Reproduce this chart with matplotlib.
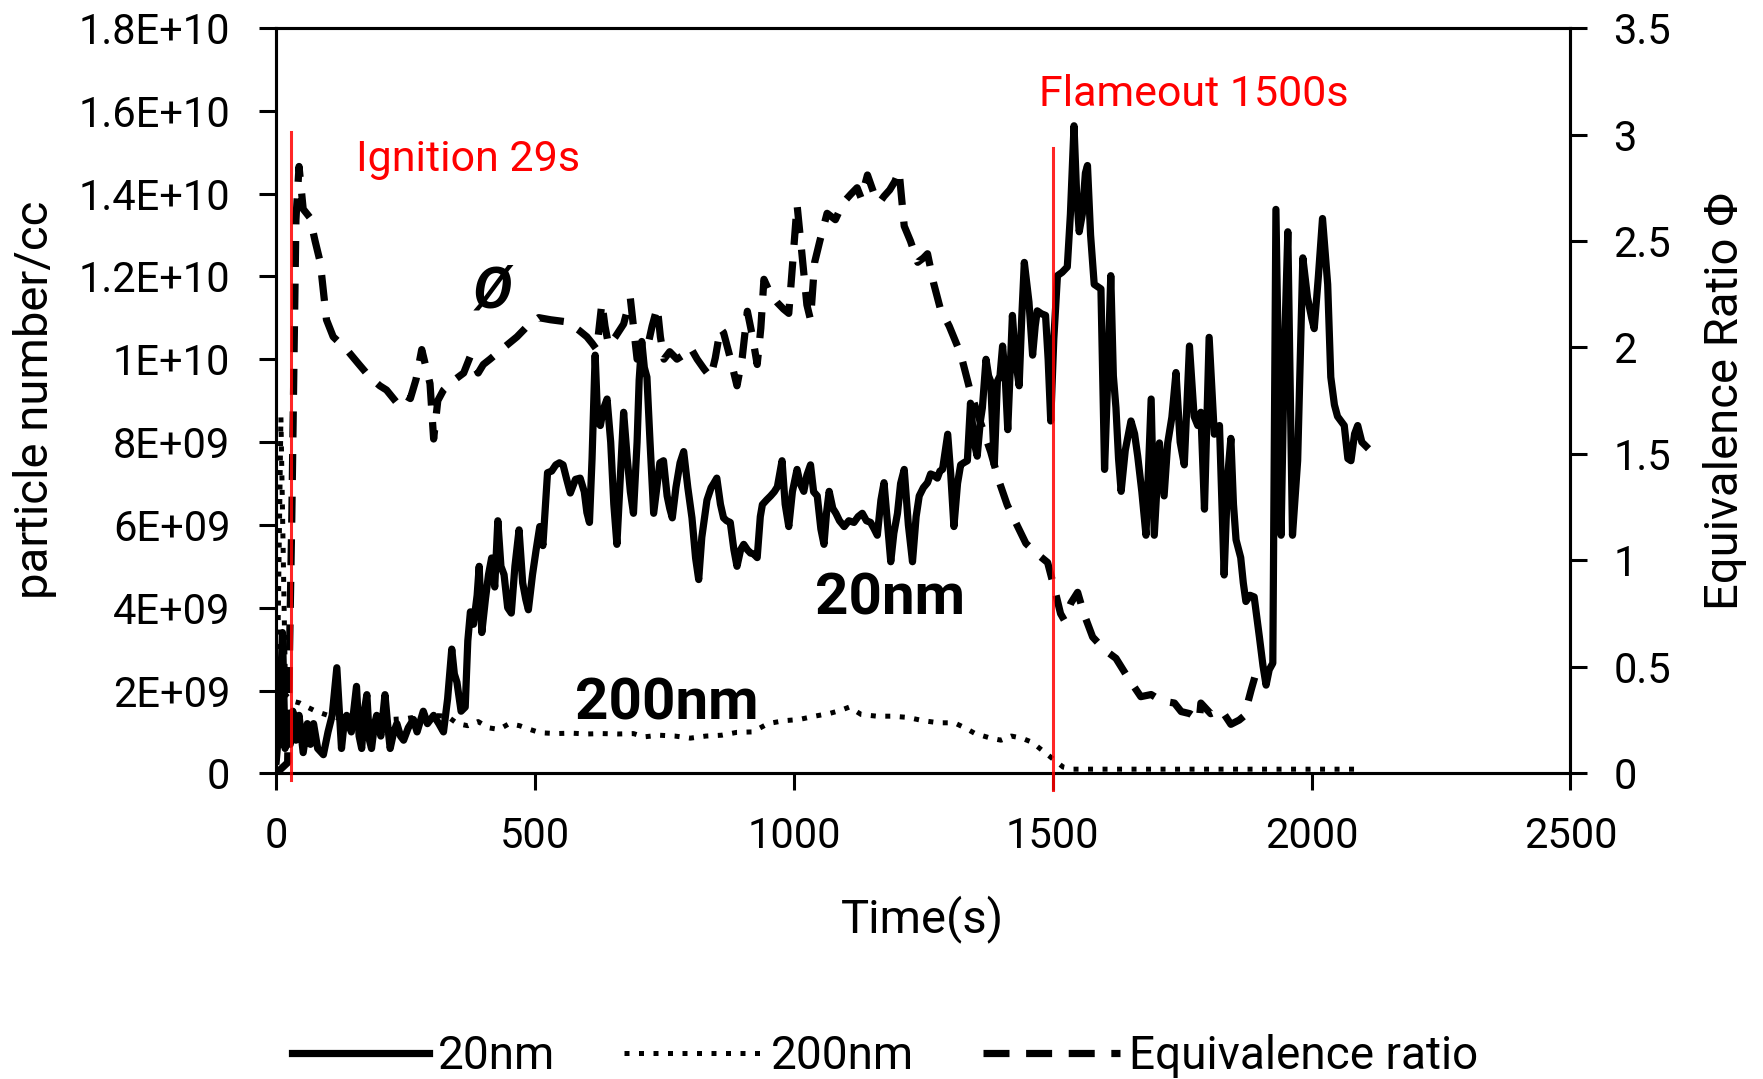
import matplotlib.pyplot as plt
import numpy as np

plt.rcParams['font.family'] = ['Roboto', 'DejaVu Sans']

# time (s) and 20 nm particle number (x1E+09 per cc)
t_20nm = [0, 6, 12, 17, 22, 27, 32, 38, 44, 52, 60, 66, 72, 80, 91, 100, 108, 117, 126, 131,
          136, 145, 155, 160, 165, 170, 175, 180, 184, 190, 194, 202, 210, 215, 220, 227, 233, 240, 246, 255,
          265, 272, 284, 292, 304, 314, 323, 331, 339, 344, 349, 357, 365, 370, 375, 381, 388, 392, 397, 404,
          410, 416, 422, 428, 434, 440, 447, 454, 461, 469, 476, 482, 487, 495, 502, 509, 515, 519, 524, 532,
          540, 547, 554, 561, 568, 578, 587, 595, 600, 605, 610, 616, 621, 626, 632, 639, 646, 652, 658, 664,
          671, 678, 684, 690, 697, 701, 706, 711, 716, 722, 729, 735, 741, 748, 755, 760, 765, 772, 780, 787,
          795, 803, 810, 816, 822, 832, 840, 845, 851, 858, 864, 870, 877, 884, 890, 897, 903, 910, 916, 922,
          929, 935, 939, 947, 955, 962, 968, 972, 977, 983, 990, 997, 1006, 1012, 1019, 1025, 1032, 1038, 1045, 1052,
          1058, 1063, 1068, 1075, 1081, 1088, 1097, 1106, 1116, 1124, 1132, 1140, 1148, 1155, 1161, 1168, 1174, 1181, 1187, 1193,
          1200, 1206, 1213, 1221, 1229, 1236, 1242, 1250, 1258, 1264, 1270, 1277, 1282, 1287, 1297, 1303, 1309, 1316, 1322, 1328,
          1335, 1341, 1348, 1354, 1360, 1364, 1371, 1376, 1380, 1384, 1387, 1393, 1398, 1403, 1408, 1413, 1418, 1422, 1428, 1435,
          1440, 1445, 1450, 1454, 1461, 1466, 1470, 1478, 1486, 1491, 1496, 1502, 1509, 1518, 1528, 1534, 1541, 1546, 1551, 1557,
          1563, 1567, 1573, 1580, 1587, 1593, 1600, 1606, 1612, 1617, 1622, 1627, 1632, 1640, 1651, 1658, 1664, 1672, 1680, 1690,
          1696, 1706, 1715, 1722, 1730, 1738, 1746, 1754, 1764, 1773, 1780, 1786, 1793, 1802, 1812, 1822, 1831, 1838, 1844, 1849,
          1854, 1863, 1868, 1873, 1881, 1889, 1899, 1906, 1912, 1918, 1925, 1931, 1941, 1947, 1954, 1963, 1973, 1983, 1992, 2000,
          2005, 2013, 2021, 2031, 2037, 2044, 2050, 2057, 2063, 2070, 2076, 2083, 2089, 2097, 2105]
n_20nm = [0.3, 1.2, 3.4, 0.6, 1.3, 0.7, 1.5, 0.8, 1.4, 0.5, 1.2, 0.7, 1.2, 0.6, 0.45, 1.0, 1.4, 2.55, 0.6, 1.2,
          1.4, 1.0, 2.1, 0.9, 0.6, 1.5, 1.9, 0.8, 0.6, 1.2, 1.4, 0.9, 1.9, 1.2, 0.6, 1.0, 1.2, 0.9, 0.8, 1.1,
          1.3, 1.0, 1.5, 1.2, 1.4, 1.2, 1.0, 1.8, 3.0, 2.4, 2.2, 1.5, 1.6, 3.2, 3.9, 3.6, 4.3, 5.0, 3.4, 4.2,
          4.8, 5.2, 4.5, 6.1, 5.0, 4.8, 4.0, 3.87, 5.0, 5.88, 4.6, 4.2, 3.95, 4.8, 5.4, 5.96, 5.5, 6.3, 7.26, 7.3,
          7.45, 7.5, 7.45, 7.1, 6.77, 7.1, 7.13, 6.8, 6.3, 6.06, 7.6, 10.1, 8.5, 8.4, 8.8, 9.04, 8.0, 6.5, 5.53, 7.0,
          8.72, 7.6, 6.8, 6.28, 8.0, 9.5, 10.43, 9.8, 9.57, 8.0, 6.28, 6.9, 7.5, 7.55, 6.7, 6.4, 6.17, 6.9, 7.5, 7.77,
          6.9, 6.17, 5.2, 4.68, 5.7, 6.6, 6.9, 7.0, 7.13, 6.5, 6.17, 6.1, 6.06, 5.4, 5.0, 5.4, 5.53, 5.4, 5.32, 5.3,
          5.21, 6.2, 6.49, 6.6, 6.7, 6.8, 6.92, 7.2, 7.55, 6.5, 5.96, 6.8, 7.34, 7.0, 6.81, 7.2, 7.45, 6.8, 6.7, 5.9,
          5.53, 6.3, 6.81, 6.4, 6.28, 6.1, 5.96, 6.1, 6.06, 6.2, 6.28, 6.1, 6.06, 5.9, 5.75, 6.6, 7.02, 6.0, 5.11, 5.8,
          6.28, 7.0, 7.34, 6.0, 5.11, 6.2, 6.7, 6.9, 7.02, 7.23, 7.2, 7.13, 7.3, 7.34, 8.19, 7.2, 5.96, 7.0, 7.45, 7.5,
          7.55, 8.94, 8.0, 7.66, 8.5, 8.83, 10.0, 9.6, 9.47, 8.3, 7.45, 9.47, 9.6, 10.32, 9.6, 8.3, 9.8, 11.06, 10.0, 9.36,
          11.0, 12.34, 11.8, 11.38, 10.1, 10.8, 11.17, 11.1, 11.06, 10.0, 8.51, 10.5, 12.02, 12.1, 12.23, 13.5, 15.64, 14.0, 13.08, 13.5,
          14.5, 14.68, 13.0, 11.81, 11.75, 11.7, 7.34, 9.5, 12.02, 9.6, 8.83, 7.6, 6.81, 7.8, 8.51, 8.2, 7.66, 6.8, 5.75, 9.04,
          5.75, 7.98, 6.7, 7.98, 8.6, 9.68, 8.0, 7.45, 10.32, 8.62, 8.4, 8.72, 6.38, 10.53, 8.19, 8.4, 4.79, 7.2, 8.09, 6.5,
          5.64, 5.21, 4.6, 4.15, 4.3, 4.26, 3.3, 2.6, 2.13, 2.5, 2.66, 13.62, 5.75, 10.0, 13.08, 5.75, 7.55, 12.45, 11.49, 11.0,
          10.74, 12.0, 13.4, 11.81, 9.57, 8.9, 8.62, 8.5, 8.4, 7.6, 7.55, 8.2, 8.4, 8.0, 7.9]

# 200 nm particle number (x1E+09 per cc)
t_200nm = [0, 9, 18, 30, 45, 60, 78, 100, 130, 160, 190, 220, 250, 280, 300, 330, 350, 370, 390, 410,
           430, 450, 470, 490, 510, 540, 570, 600, 630, 660, 690, 710, 740, 770, 800, 830, 860, 890, 920, 950,
           980, 1010, 1040, 1070, 1090, 1107, 1130, 1160, 1190, 1220, 1250, 1280, 1310, 1330, 1350, 1380, 1400, 1420, 1440, 1460,
           1480, 1500, 1520, 1540, 1600, 1700, 1800, 1900, 2000, 2100]
n_200nm = [0.2, 8.6, 1.9, 1.75, 1.7, 1.6, 1.49, 1.4, 1.3, 1.3, 1.28, 1.3, 1.32, 1.38, 1.4, 1.38, 1.2, 1.15, 1.25, 1.1,
           1.06, 1.2, 1.15, 1.06, 0.98, 0.96, 0.97, 0.95, 0.96, 0.95, 0.96, 0.88, 0.92, 0.9, 0.85, 0.9, 0.92, 0.99, 1.0, 1.2,
           1.27, 1.3, 1.38, 1.45, 1.52, 1.6, 1.42, 1.38, 1.38, 1.35, 1.27, 1.22, 1.22, 1.1, 0.96, 0.85, 0.8, 0.9, 0.85, 0.75,
           0.55, 0.35, 0.15, 0.1, 0.1, 0.1, 0.1, 0.1, 0.1, 0.1]

# equivalence ratio (right axis)
t_phi = [0, 22, 30, 38, 44, 52, 65, 75, 85, 97, 110, 136, 160, 181, 200, 213, 233, 245, 259, 270,
         281, 290, 297, 304, 312, 323, 340, 362, 375, 390, 400, 413, 440, 465, 485, 507, 530, 562, 585, 600,
         610, 619, 624, 629, 635, 642, 655, 671, 684, 690, 697, 706, 716, 726, 736, 742, 749, 760, 774, 790,
         800, 813, 826, 839, 848, 858, 864, 877, 890, 900, 910, 920, 929, 936, 942, 955, 968, 980, 990, 997,
         1006, 1015, 1025, 1032, 1040, 1050, 1064, 1080, 1095, 1110, 1122, 1130, 1142, 1155, 1165, 1174, 1185, 1195, 1203, 1213,
         1225, 1239, 1250, 1258, 1270, 1283, 1300, 1322, 1340, 1360, 1380, 1395, 1412, 1430, 1448, 1470, 1490, 1505, 1515, 1522,
         1535, 1548, 1560, 1577, 1600, 1622, 1645, 1670, 1690, 1710, 1735, 1748, 1765, 1783, 1786, 1805, 1825, 1844, 1860, 1870,
         1883, 1890]
phi = [0.0, 0.05, 1.2, 2.6, 2.85, 2.65, 2.61, 2.5, 2.4, 2.13, 2.05, 1.99, 1.92, 1.86, 1.82, 1.8, 1.74, 1.78, 1.76, 1.85,
       1.99, 1.9, 1.83, 1.57, 1.75, 1.8, 1.84, 1.88, 1.96, 1.88, 1.92, 1.945, 2.0, 2.05, 2.1, 2.14, 2.13, 2.12, 2.08, 2.05,
       2.02, 1.99, 2.1, 2.21, 2.1, 2.01, 2.05, 2.11, 2.23, 2.1, 1.945, 1.97, 1.99, 2.1, 2.19, 2.05, 1.945, 1.98, 1.945, 1.97,
       2.0, 1.945, 1.9, 1.86, 1.95, 2.09, 2.07, 1.95, 1.82, 1.95, 2.17, 2.05, 1.92, 2.09, 2.32, 2.25, 2.21, 2.18, 2.16, 2.38,
       2.67, 2.45, 2.2, 2.13, 2.4, 2.5, 2.63, 2.6, 2.68, 2.72, 2.75, 2.7, 2.81, 2.72, 2.68, 2.71, 2.74, 2.78, 2.83, 2.57,
       2.5, 2.4, 2.42, 2.44, 2.3, 2.18, 2.1, 1.97, 1.8, 1.65, 1.51, 1.38, 1.26, 1.17, 1.08, 1.03, 0.99, 0.85, 0.75, 0.72,
       0.8, 0.85, 0.75, 0.64, 0.58, 0.54, 0.45, 0.36, 0.37, 0.34, 0.33, 0.29, 0.28, 0.25, 0.33, 0.28, 0.3, 0.23, 0.25, 0.27,
       0.39, 0.45]

x_ticks = [0, 500, 1000, 1500, 2000, 2500]
left_ticks = [0, 2e9, 4e9, 6e9, 8e9, 1e10, 1.2e10, 1.4e10, 1.6e10, 1.8e10]
left_labels = ['0', '2E+09', '4E+09', '6E+09', '8E+09', '1E+10', '1.2E+10', '1.4E+10', '1.6E+10', '1.8E+10']
right_ticks = [0, 0.5, 1, 1.5, 2, 2.5, 3, 3.5]
right_labels = ['0', '0.5', '1', '1.5', '2', '2.5', '3', '3.5']

ignition_t = 29
flameout_t = 1500

fig = plt.figure(figsize=(17.63, 10.79), dpi=100)
ax1 = fig.add_axes([0.1567, 0.2833, 0.7341, 0.6907])
ax2 = ax1.twinx()

l20, = ax1.plot(t_20nm, np.array(n_20nm) * 1e9, color='black', lw=5.2, label='20nm')
l200, = ax1.plot(t_200nm, np.array(n_200nm) * 1e9, color='black', lw=3.6,
                 linestyle=(0, (1, 1.9)), label='200nm')
lphi, = ax2.plot(t_phi, phi, color='black', lw=5.2, linestyle=(0, (3.6, 2.3)),
                 label='Equivalence ratio')

ax1.set_xlim(0, 2500)
ax1.set_ylim(0, 1.8e10)
ax2.set_ylim(0, 3.5)
ax1.set_xticks(x_ticks)
ax1.set_yticks(left_ticks)
ax1.set_yticklabels(left_labels)
ax2.set_yticks(right_ticks)
ax2.set_yticklabels(right_labels)

ax1.tick_params(axis='both', direction='out', length=12, width=2.2, labelsize=30)
ax1.tick_params(axis='y', pad=21)
ax1.tick_params(axis='x', pad=19)
ax2.tick_params(axis='y', direction='out', length=12, width=2.2, labelsize=30, pad=19)
for ax in (ax1, ax2):
    for sp in ax.spines.values():
        sp.set_linewidth(2.2)

# ignition / flameout markers
ax2.axvline(ignition_t, ymin=-0.009, ymax=0.86, color='red', lw=2.2, alpha=0.85,
            clip_on=False, zorder=5)
ax2.axvline(flameout_t, ymin=-0.023, ymax=0.839, color='red', lw=2.2, alpha=0.85,
            clip_on=False, zorder=5)
ax1.text(154, 14.54e9, 'Ignition 29s', color='red', fontsize=31, ha='left', va='baseline')
ax1.text(1473, 16.11e9, 'Flameout 1500s', color='red', fontsize=31, ha='left', va='baseline')

ax1.text(417, 11.25e9, 'Ø', fontsize=42, fontweight='bold', fontstyle='italic',
         ha='center', va='baseline')
ax1.text(1186, 3.83e9, '20nm', fontsize=42, fontweight='bold', ha='center', va='baseline')
ax1.text(755, 1.29e9, '200nm', fontsize=42, fontweight='bold', ha='center', va='baseline')

fig.text(0.0196, 0.629, 'particle number/cc', rotation=90, fontsize=34, ha='center', va='center')
fig.text(0.9785, 0.628, 'Equivalence Ratio Φ', rotation=90, fontsize=34, ha='center', va='center')
fig.text(0.523, 0.148, 'Time(s)', fontsize=34, ha='center', va='center')

fig.legend([l20, l200, lphi], ['20nm', '200nm', 'Equivalence ratio'], loc='center',
           bbox_to_anchor=(0.502, 0.021), ncol=3, frameon=False, fontsize=33,
           handlelength=3.0, handletextpad=0.2, columnspacing=1.5)

fig.savefig('out.png', dpi=100)
